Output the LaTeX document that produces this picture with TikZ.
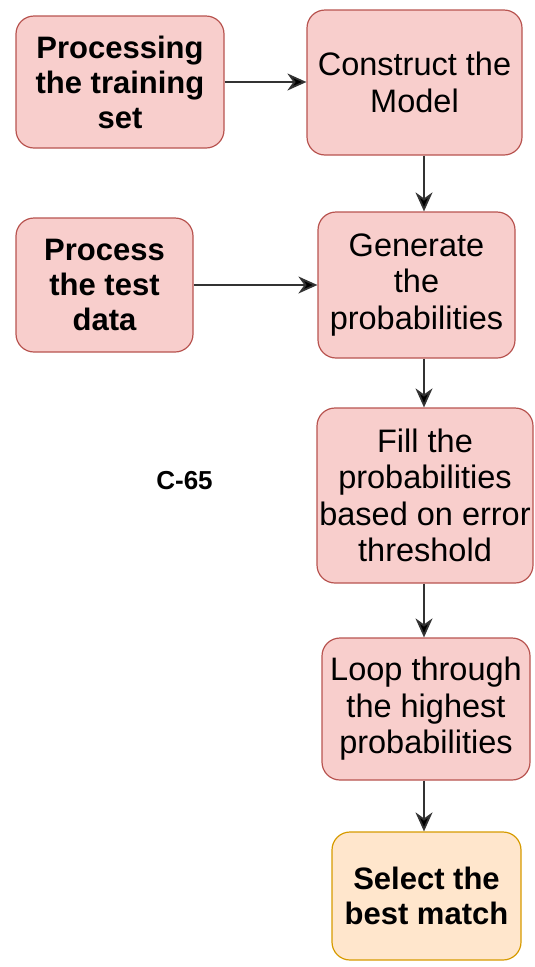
\documentclass[tikz,border=0pt]{standalone}
\usepackage{fontspec}
\setmainfont{Liberation Sans}
\usetikzlibrary{arrows.meta}

\definecolor{redfill}{HTML}{F8CECC}
\definecolor{redline}{HTML}{B85450}
\definecolor{orangefill}{HTML}{FFE6CC}
\definecolor{orangeline}{HTML}{D79B00}

\tikzset{
  flowbox/.style={draw=redline, fill=redfill, line width=1.2pt,
    rounded corners=18pt, inner sep=0pt, align=center, text=black},
  normtext/.style={font=\fontsize{32.5}{36.5}\selectfont},
  boldtext/.style={font=\fontsize{31}{35}\selectfont\bfseries},
  endbox/.style={flowbox, draw=orangeline, fill=orangefill},
  arr/.style={line width=1.8pt, draw=black!80,
    -{Stealth[length=19pt, width=17pt, inset=6pt, fill=black]}},
}

\begin{document}
\begin{tikzpicture}[x=1pt, y=-1pt]
  \useasboundingbox (0,0) rectangle (535,967);

  % process boxes
  \node[flowbox, boldtext, minimum width=208pt, minimum height=132pt]
    (train) at (120,82) {Processing\\the training\\set};
  \node[flowbox, normtext, minimum width=215pt, minimum height=145pt]
    (model) at (414.5,82.5) {Construct the\\Model};
  \node[flowbox, boldtext, minimum width=177pt, minimum height=134pt]
    (test) at (104.5,285) {Process\\the test\\data};
  \node[flowbox, normtext, minimum width=197pt, minimum height=146pt]
    (gen) at (416.5,285) {Generate\\the\\probabilities};
  \node[flowbox, normtext, minimum width=216pt, minimum height=175pt]
    (fill) at (425,495.5) {Fill the\\probabilities\\based on error\\threshold};
  \node[flowbox, normtext, minimum width=208pt, minimum height=142pt]
    (loop) at (426,709) {Loop through\\the highest\\probabilities};
  \node[endbox, boldtext, minimum width=189pt, minimum height=128pt]
    (best) at (426.5,896) {Select the\\best match};

  % free label
  \node[font=\fontsize{26}{30}\selectfont\bfseries] (tag) at (184.5,481) {C-65};

  % vertical axis of the main flow
  \coordinate (ax) at (424,0);

  % connectors
  \draw[arr] (train.east) -- (train.east -| model.west);
  \draw[arr] (test.east) -- (test.east -| gen.west);
  \draw[arr] (model.south -| ax) -- (gen.north -| ax);
  \draw[arr] (gen.south -| ax) -- (fill.north -| ax);
  \draw[arr] (fill.south -| ax) -- (loop.north -| ax);
  \draw[arr] (loop.south -| ax) -- (best.north -| ax);
\end{tikzpicture}
\end{document}
